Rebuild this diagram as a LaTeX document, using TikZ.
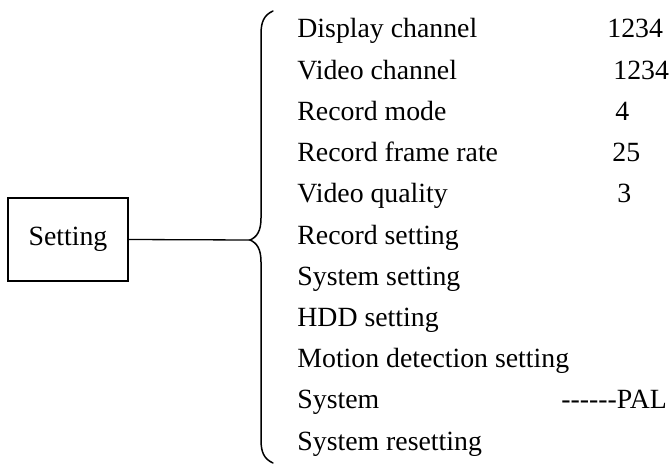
\documentclass[tikz,border=0pt]{standalone}
\usepackage{fontspec}
\setmainfont{Liberation Serif}
\begin{document}
\begin{tikzpicture}[x=0.5pt,y=-0.5pt,
  every node/.style={font=\fontsize{13.9}{16}\selectfont, inner sep=0pt},
  item/.style={anchor=base west},
  val/.style={anchor=base west},
  framebox/.style={draw, line width=0.65pt, minimum width=60pt, minimum height=41.5pt},
  conn/.style={line width=0.65pt},
  bracestyle/.style={line width=0.75pt, line cap=round}]
\useasboundingbox (0,0) rectangle (670,466);
\node[framebox] (set) at (68,239.5) {Setting};
\coordinate (tip) at (250,240);
\draw[conn] (set.east) -- (tip);
\draw[bracestyle] (273,11) .. controls (264,15) and (261,22) .. (261,34)
  -- (261,218) .. controls (261,231) and (257,237) .. (tip)
  .. controls (257,243) and (261,249) .. (261,262)
  -- (261,440) .. controls (261,452) and (264,459) .. (273,463);
\node[item] (i0) at (297,38.0) {Display channel};
\node[item] (i1) at (297,79.2) {Video channel};
\node[item] (i2) at (297,120.4) {Record mode};
\node[item] (i3) at (297,161.6) {Record frame rate};
\node[item] (i4) at (297,202.8) {Video quality};
\node[item] (i5) at (297,244.0) {Record setting};
\node[item] (i6) at (297,285.2) {System setting};
\node[item] (i7) at (297,326.4) {HDD setting};
\node[item] (i8) at (297,367.6) {Motion detection setting};
\node[item] (i9) at (297,408.8) {System};
\node[item] (i10) at (297,450.0) {System resetting};
\node[val] (v0) at (607,38.0) {1234};
\node[val] (v1) at (613,79.2) {1234};
\node[val] (v2) at (615,120.4) {4};
\node[val] (v3) at (612,161.6) {25};
\node[val] (v4) at (617,202.8) {3};
\node[val] (v9) at (561,408.8) {-{}-{}-{}-{}-{}-PAL};
\end{tikzpicture}
\end{document}
